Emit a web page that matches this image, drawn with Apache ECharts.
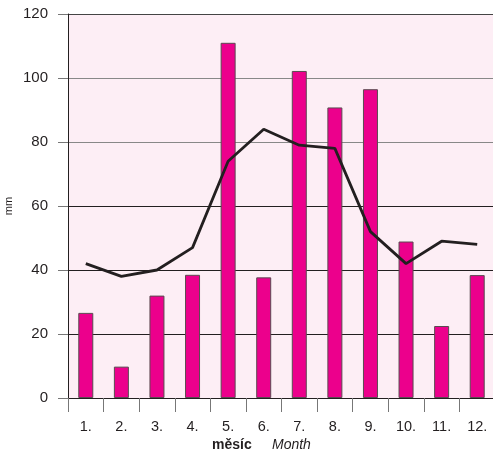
<!DOCTYPE html>
<html><head><meta charset="utf-8">
<script src="https://cdn.jsdelivr.net/npm/echarts@6/dist/echarts.min.js"></script>
<style>html,body{margin:0;padding:0;background:#fff}#c{width:493px;height:455px}</style>
</head><body><div id="c"></div>
<script>
const months = ['1.','2.','3.','4.','5.','6.','7.','8.','9.','10.','11.','12.'];
const precipitation = [26.6, 9.8, 32, 38.5, 111, 37.7, 102.2, 90.8, 96.5, 48.9, 22.5, 38.4];
const lineValues = [42, 38, 40, 47, 74, 84, 79, 78, 52, 42, 49, 48];
const yTicks = [0, 20, 40, 60, 80, 100, 120];

const chart = echarts.init(document.getElementById('c'));
const font = 'Liberation Sans, Arial, sans-serif';
chart.setOption({
  animation: false,
  grid: {left: 68, top: 14, right: -2, bottom: 57, show: true, backgroundColor: '#fdeef5', borderWidth: 0,
         containLabel: false, outerBoundsMode: 'none'},
  xAxis: {
    type: 'category', data: months, boundaryGap: true,
    axisLine: {show: true, lineStyle: {color: '#231f20', width: 1}},
    axisTick: {show: true, length: 14, lineStyle: {color: '#777'}},
    axisLabel: {color: '#231f20', fontSize: 14.5, fontFamily: font, margin: 21}
  },
  yAxis: {
    type: 'value', min: 0, max: 120, interval: 20,
    name: 'mm', nameLocation: 'middle', nameGap: 54, nameRotate: 90, nameMoveOverlap: false,
    nameTextStyle: {color: '#231f20', fontSize: 11, fontFamily: font},
    axisLine: {show: true, lineStyle: {color: '#231f20', width: 1}},
    axisTick: {show: true, length: 10, lineStyle: {color: '#777'}},
    axisLabel: {color: '#231f20', fontSize: 15, fontFamily: font, margin: 20},
    splitLine: {show: true, lineStyle: {color: ['#231f20','#231f20','#231f20','#231f20','#888','#888','#444'], width: 1.2}}
  },
  series: [
    {type: 'bar', data: precipitation, barWidth: 15,
     itemStyle: {color: '#ec008c', borderColor: '#5a4a50', borderWidth: 1}},
    {type: 'line', data: lineValues, symbol: 'none',
     lineStyle: {color: '#231f20', width: 2.8}, z: 5}
  ],
  graphic: [
    {type: 'text', left: 212, top: 438, style: {text: 'měsíc', font: 'bold 14px ' + font, fill: '#231f20'}},
    {type: 'text', left: 272, top: 438, style: {text: 'Month', font: 'italic 14px ' + font, fill: '#231f20'}}
  ]
});
</script></body></html>
